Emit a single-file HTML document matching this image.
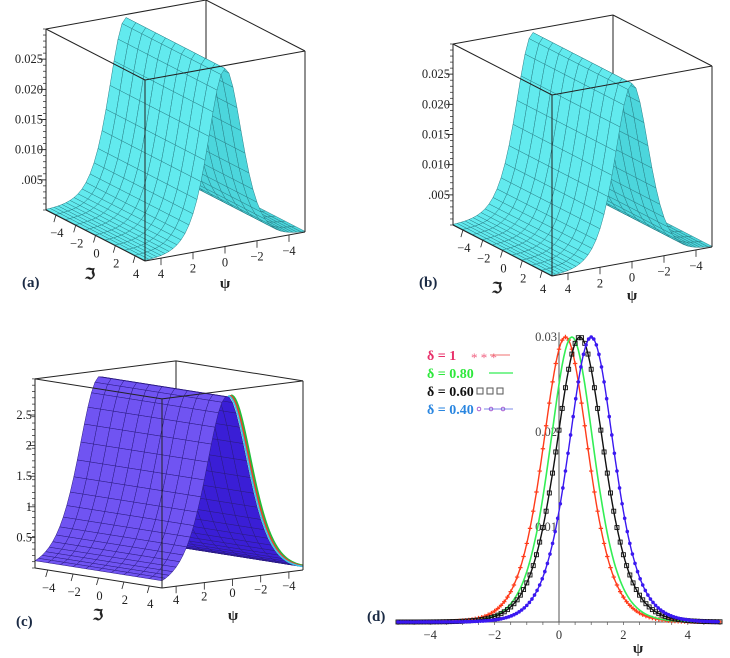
<!DOCTYPE html>
<html><head><meta charset="utf-8">
<style>
html,body{margin:0;padding:0;background:#fff;}
svg{display:block;font-family:"Liberation Serif",serif;}
</style></head>
<body>
<svg id="fig" width="730" height="658" viewBox="0 0 730 658" xmlns="http://www.w3.org/2000/svg">
<g id="pa"></g>
<g id="pb"></g>
<g id="pc"></g>
<g id="pd"></g>
<text x="22" y="287" font-size="15" font-weight="bold" fill="#1a2a44">(a)</text>
<text x="419" y="287" font-size="15" font-weight="bold" fill="#1a2a44">(b)</text>
<text x="16" y="626" font-size="15" font-weight="bold" fill="#1a2a44">(c)</text>
<text x="367" y="621" font-size="15" font-weight="bold" fill="#1a2a44">(d)</text>
</svg>
<script>
// ---- data ----
const psiTicks = [4, 2, 0, -2, -4];
const imTicks = [-4, -2, 0, 2, 4];
const zTicksAB = [0.005, 0.010, 0.015, 0.020, 0.025];
const zTickLabelsAB = [".005", "0.010", "0.015", "0.020", "0.025"];
const zTicksC = [0.5, 1, 1.5, 2, 2.5];
const zTickLabelsC = ["0.5", "1", "1.5", "2", "2.5"];
const ridgeAmpAB = [0.0295];
const ridgeCenterAB = [0];
const ridgeWidthAB = [0.7];
const ridgeAmpC = [3.0];
const ridgeCenterC = [0.4];
const ridgeWidthC = [0.5];
const stripeCentersC = [0.12, 0.22, 0.31];
const stripeColorsC = ["#1fbf3a", "#e8402a", "#39c7e6"];
// panel d
const deltaLabels = ["δ = 1", "δ = 0.80", "δ = 0.60", "δ = 0.40"];
const deltaColors = ["#e8306a", "#2ee83c", "#111111", "#2a86e0"];
const curveColors = ["#ff3b1a", "#33ee55", "#111111", "#3a18f0"];
const peakCenters = [0.2, 0.4, 0.65, 1.0];
const peakHeights = [0.030, 0.030, 0.030, 0.030];
const peakWidths = [1.05, 1.08, 1.0, 1.05];
const xTicksD = [-4, -2, 0, 2, 4];
const yTicksD = [0.01, 0.02, 0.03];
const yTickLabelsD = ["0.01", "0.02", "0.03"];

const NS = "http://www.w3.org/2000/svg";
function mk(parent, tag, attrs, text) {
  const e = document.createElementNS(NS, tag);
  for (const k in attrs) e.setAttribute(k, attrs[k]);
  if (text !== undefined) e.textContent = text;
  parent.appendChild(e);
  return e;
}
function sech2(x) { const c = Math.cosh(x); return 1 / (c * c); }

function draw3D(g, cfg) {
  const P = (psi, im, z) => [cfg.O[0] + (5 - psi) * cfg.u[0] + (5 - im) * cfg.v[0],
                             cfg.O[1] + (5 - psi) * cfg.u[1] + (5 - im) * cfg.v[1] - z * cfg.zs];
  const f = (psi) => cfg.amp * sech2(cfg.w * (psi - cfg.c));
  const line = (a, b, name) => {
    const l = mk(g, "line", {x1: a[0], y1: a[1], x2: b[0], y2: b[1], stroke: "#222", "stroke-width": 1});
    
    
  };
  const Z = cfg.zmax;
  line(P(-5, -5, 0), P(-5, -5, Z), "box-back-edge");
  const quads = [];
  const dp = 0.25, di = 1;
  for (let p = -5; p < 5 - 1e-9; p += dp) {
    for (let i = -5; i < 5 - 1e-9; i += di) {
      quads.push({p, i, d: (p + dp / 2) + (i + di / 2)});
    }
  }
  quads.sort((a, b) => a.d - b.d);
  const surf = mk(g, "g", {});
  
  
  for (const q of quads) {
    const p0 = q.p, p1 = q.p + dp, i0 = q.i, i1 = q.i + di;
    const pts = [P(p0, i0, f(p0)), P(p1, i0, f(p1)), P(p1, i1, f(p1)), P(p0, i1, f(p0))];
    const slope = f(p1) - f(p0);
    const fill = slope <= 0 ? cfg.fillFront : cfg.fillBack;
    mk(surf, "polygon", {points: pts.map(x => x.join(",")).join(" "), fill: fill, stroke: cfg.mesh, "stroke-width": 0.5});
  }
  if (cfg.stripes) {
    cfg.stripes.forEach((c, k) => {
      const pts = [];
      for (let p = c; p >= -5; p -= 0.1) pts.push(P(p, 5, cfg.amp * sech2(cfg.w * (p - c))).join(","));
      const pl = mk(g, "polyline", {points: pts.join(" "), fill: "none", stroke: cfg.stripeColors[k], "stroke-width": 2.4 - k * 0.4});
      
      
    });
  }
  line(P(5, -5, Z), P(-5, -5, Z), "box-top-edge");
  line(P(-5, -5, Z), P(-5, 5, Z), "box-top-edge");
  line(P(-5, 5, Z), P(5, 5, Z), "box-top-edge");
  line(P(5, 5, Z), P(5, -5, Z), "box-top-edge");
  line(P(5, 5, 0), P(5, 5, Z), "box-front-edge");
  line(P(5, -5, 0), P(5, -5, Z), "box-left-edge");
  line(P(-5, 5, 0), P(-5, 5, Z), "box-right-edge");
  line(P(5, -5, 0), P(5, 5, 0), "im-axis-line");
  line(P(5, 5, 0), P(-5, 5, 0), "psi-axis-line");
  const L = P(5, -5, 0);
  for (let z = 0; z <= Z + 1e-12; z += Z / 30) {
    mk(g, "line", {x1: L[0] - 3, y1: L[1] - z * cfg.zs, x2: L[0], y2: L[1] - z * cfg.zs, stroke: "#222", "stroke-width": 0.7});
  }
  cfg.zTicks.forEach((z, k) => {
    const y = L[1] - z * cfg.zs;
    mk(g, "line", {x1: L[0] - 7, y1: y, x2: L[0], y2: y, stroke: "#222", "stroke-width": 0.8});
    const t = mk(g, "text", {x: L[0] - 3, y: y + 4, "font-size": 12.5, "text-anchor": "end", fill: "#222"}, cfg.zLabels[k]);
    
    
  });
  imTicks.forEach(v => {
    const a = P(5, v, 0);
    mk(g, "line", {x1: a[0], y1: a[1], x2: a[0] - 2, y2: a[1] + 7, stroke: "#222", "stroke-width": 0.8});
    const t = mk(g, "text", {x: a[0] + 1, y: a[1] + cfg.imOff, "font-size": 12.5, "text-anchor": "middle", fill: "#222"}, v < 0 ? "−" + (-v) : String(v));
    
    
  });
  psiTicks.forEach(v => {
    const a = P(v, 5, 0);
    mk(g, "line", {x1: a[0], y1: a[1], x2: a[0], y2: a[1] + 7, stroke: "#222", "stroke-width": 0.8});
    const t = mk(g, "text", {x: a[0], y: a[1] + cfg.psiOff, "font-size": 12.5, "text-anchor": "middle", fill: "#222"}, v < 0 ? "−" + (-v) : String(v));
    
    
  });
  const ti = mk(g, "text", {x: cfg.imLab[0], y: cfg.imLab[1], "font-size": 15, "font-weight": "bold", "text-anchor": "middle", fill: "#222"}, "ℑ");
  
  
  const tp = mk(g, "text", {x: cfg.psiLab[0], y: cfg.psiLab[1], "font-size": 15, "font-weight": "bold", "text-anchor": "middle", fill: "#222"}, "ψ");
  
  
}

const cfgA = {O: [145, 261], u: [16, -2.9], v: [-9.9, -5.1], zs: 181 / 0.030, zmax: 0.030,
  amp: ridgeAmpAB[0], c: ridgeCenterAB[0], w: ridgeWidthAB[0],
  fillFront: "#62eaee", fillBack: "#4cd6dc", mesh: "#2a8088",
  zTicks: zTicksAB, zLabels: zTickLabelsAB, imOff: 22, psiOff: 20, imLab: [90, 279], psiLab: [225, 288]};
draw3D(document.getElementById("pa"), cfgA);
const cfgB = Object.assign({}, cfgA, {O: [552, 276], imLab: [497, 293], psiLab: [632, 300]});
draw3D(document.getElementById("pb"), cfgB);
const cfgC = {O: [162, 588], u: [14.1, -1.8], v: [-12.7, -2.0], zs: 61.2, zmax: 3.09,
  amp: ridgeAmpC[0], c: ridgeCenterC[0], w: ridgeWidthC[0],
  fillFront: "#7054f2", fillBack: "#3a1ed6", mesh: "#2a1a80",
  zTicks: zTicksC, zLabels: zTickLabelsC, imOff: 22, psiOff: 18, imLab: [98, 620], psiLab: [233, 620],
  stripes: stripeCentersC, stripeColors: stripeColorsC};
draw3D(document.getElementById("pc"), cfgC);

// ---- panel d ----
(function () {
  const g = document.getElementById("pd");
  const X = v => 559 + v * 32.2;
  const Y = v => 622 - v * 9500;
  const ax = mk(g, "line", {x1: 398, y1: 622, x2: 720, y2: 622, stroke: "#555", "stroke-width": 1});
  
  
  const ay = mk(g, "line", {x1: X(0), y1: Y(0.0305), x2: X(0), y2: 622, stroke: "#555", "stroke-width": 1});
  
  
  for (let v = -5; v <= 5; v += 0.5) mk(g, "line", {x1: X(v), y1: 622, x2: X(v), y2: 625, stroke: "#555", "stroke-width": 0.7});
  xTicksD.forEach(v => {
    const t = mk(g, "text", {x: X(v), y: 639, "font-size": 12.5, "text-anchor": "middle", fill: "#333"}, v < 0 ? "−" + (-v) : String(v));
    
    
  });
  yTicksD.forEach((v, k) => {
    const t = mk(g, "text", {x: X(0) - 2, y: Y(v) + 4, "font-size": 12.5, "text-anchor": "end", fill: "#444"}, yTickLabelsD[k]);
    
    
  });
  const xt = mk(g, "text", {x: 638, y: 653, "font-size": 15, "font-weight": "bold", "text-anchor": "middle", fill: "#222"}, "ψ");
  
  
  [0, 1, 2, 3].forEach(k => {
    const fn = x => peakHeights[k] * sech2(peakWidths[k] * (x - peakCenters[k]));
    const pts = [];
    for (let x = -5; x <= 5.0001; x += 0.05) pts.push(X(x).toFixed(1) + "," + Y(fn(x)).toFixed(1));
    const s = mk(g, "g", {});
    
    
    mk(s, "polyline", {points: pts.join(" "), fill: "none", stroke: curveColors[k], "stroke-width": k === 1 ? 1.6 : 1.4});
    if (k === 0) {
      for (let x = -5; x <= 5; x += 0.1) { const px = X(x), py = Y(fn(x));
        mk(s, "path", {d: `M${px-2.2},${py}h4.4M${px},${py-2.2}v4.4`, stroke: curveColors[k], "stroke-width": 1.2}); }
    } else if (k === 2) {
      for (let x = -5; x <= 5; x += 0.1) { const px = X(x), py = Y(fn(x));
        mk(s, "rect", {x: px - 2, y: py - 2, width: 4, height: 4, fill: "none", stroke: "#111", "stroke-width": 0.9}); }
    } else if (k === 3) {
      for (let x = -5; x <= 5; x += 0.08) { const px = X(x), py = Y(fn(x));
        mk(s, "circle", {cx: px, cy: py, r: 1.8, fill: curveColors[k]}); }
    }
  });
  const ly = [355, 373, 391, 409];
  deltaLabels.forEach((lab, k) => {
    const lg = mk(g, "g", {});
    
    
    mk(lg, "text", {x: 427, y: ly[k] + 5, "font-size": 14, "font-weight": "bold", fill: deltaColors[k]}, lab);
    if (k === 0) {
      mk(lg, "text", {x: 471, y: ly[k] + 7, "font-size": 13, fill: "#f06080"}, "* * *");
      mk(lg, "line", {x1: 490, y1: ly[k], x2: 510, y2: ly[k], stroke: "#f07070", "stroke-width": 1});
    } else if (k === 1) {
      mk(lg, "line", {x1: 489, y1: ly[k], x2: 513, y2: ly[k], stroke: "#33ee55", "stroke-width": 1.2});
    } else if (k === 2) {
      [477, 487, 497].forEach(x => mk(lg, "rect", {x: x, y: ly[k] - 3, width: 6, height: 6, fill: "none", stroke: "#555", "stroke-width": 1}));
    } else {
      [479, 491, 503].forEach(x => mk(lg, "circle", {cx: x, cy: ly[k], r: 1.8, fill: "none", stroke: "#a050d0", "stroke-width": 0.9}));
      mk(lg, "line", {x1: 484, y1: ly[k], x2: 513, y2: ly[k], stroke: "#5060e0", "stroke-width": 0.8});
    }
  });
})();
</script>
</body></html>
